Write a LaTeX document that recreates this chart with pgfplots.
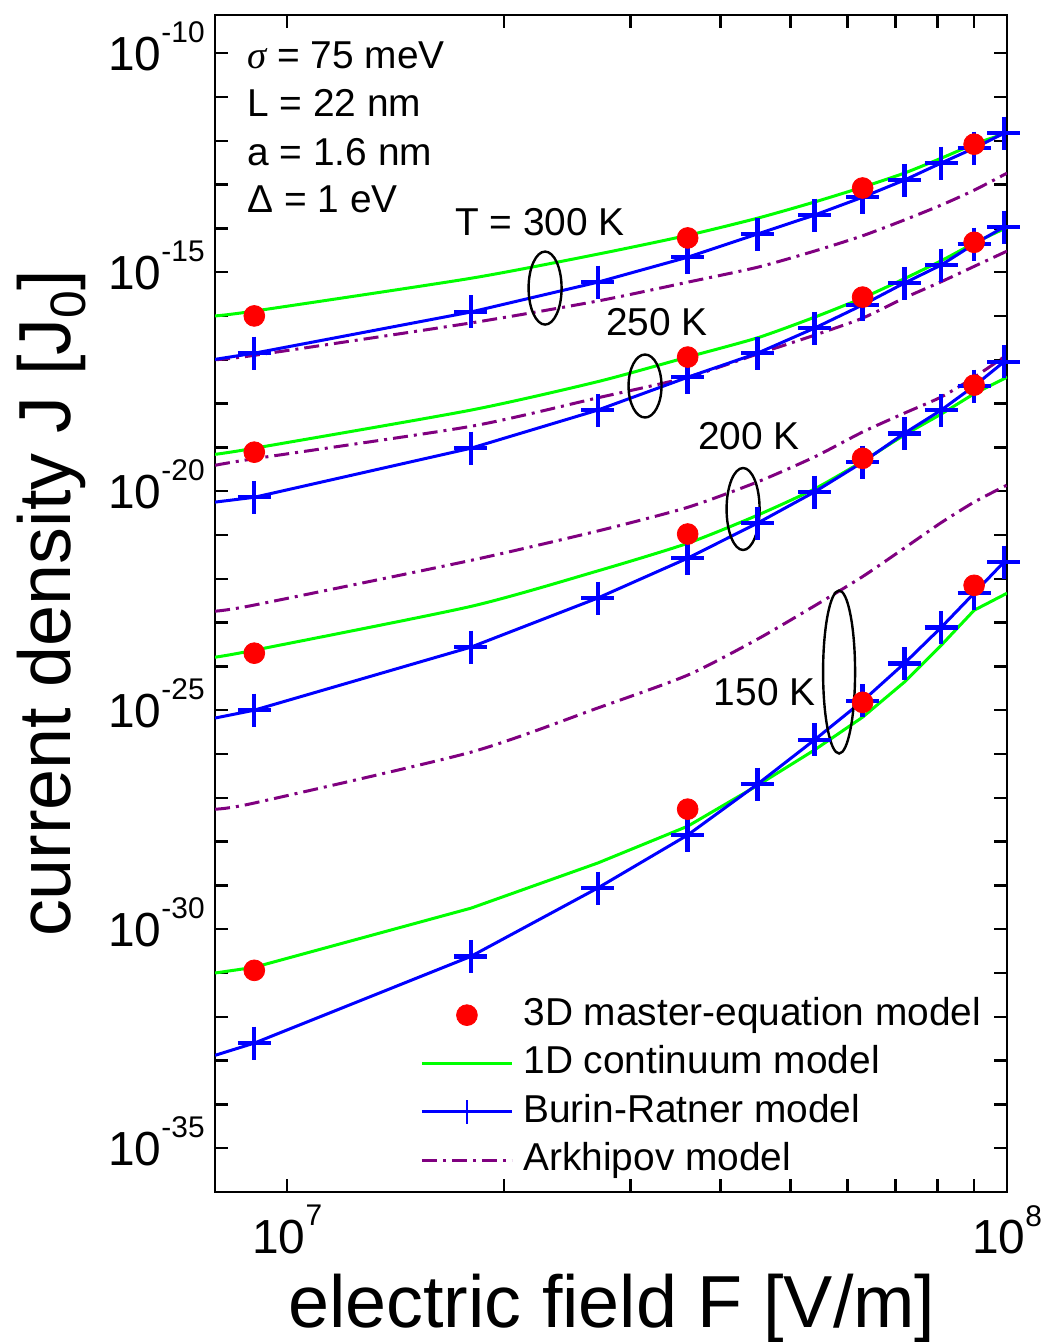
\documentclass[border=0pt]{standalone}
\usepackage{fontspec}
\setmainfont{Liberation Sans}
\newfontfamily\serifgreek{Liberation Serif}
\usepackage{pgfplots}
\pgfplotsset{compat=1.18}
\usepackage{pgfplotstable}

\definecolor{contgreen}{RGB}{0,255,0}
\definecolor{brblue}{RGB}{0,0,255}
\definecolor{mered}{RGB}{255,0,0}
\definecolor{arkpurple}{RGB}{128,0,128}

\newcommand{\tenpow}[1]{10\raisebox{0.57em}{\fontsize{15}{15}\selectfont #1}}
\newcommand{\annfont}{\fontsize{19.5}{23}\selectfont}

% 1D continuum model, one column per temperature
\pgfplotstableread{
F      t300     t250     t200     t150
7.94e6 1.00e-16 6.92e-20 1.62e-24 1.00e-31
9e6    1.29e-16 9.55e-20 2.34e-24 1.35e-31
1.8e7  7.24e-16 7.08e-19 2.34e-23 3.02e-30
2.7e7  2.57e-15 3.16e-18 1.51e-22 3.24e-29
3.6e7  6.92e-15 1.15e-17 6.46e-22 2.24e-28
4.5e7  1.70e-14 3.16e-17 2.82e-21 1.91e-27
5.4e7  3.98e-14 9.33e-17 1.12e-20 1.23e-26
6.3e7  8.71e-14 2.57e-16 4.79e-20 6.92e-26
7.2e7  1.82e-13 7.08e-16 1.91e-19 4.37e-25
8.1e7  3.98e-13 1.82e-15 5.75e-19 3.02e-24
9e7    8.32e-13 4.57e-15 1.66e-18 1.91e-23
1e8    1.51e-12 1.05e-14 3.98e-18 4.68e-23
}\contdata

% Arkhipov model
\pgfplotstableread{
F      t300     t250     t200     t150
7.94e6 1.00e-17 3.89e-20 1.82e-23 5.50e-28
9e6    1.26e-17 5.50e-20 2.51e-23 7.59e-28
1.8e7  6.92e-17 3.02e-19 2.63e-22 1.10e-26
2.7e7  2.19e-16 1.35e-18 1.23e-21 1.12e-25
3.6e7  5.89e-16 3.98e-18 4.27e-21 6.31e-25
4.5e7  1.29e-15 1.35e-17 1.62e-20 4.17e-24
5.4e7  3.02e-15 3.63e-17 6.03e-20 2.40e-23
6.3e7  6.76e-15 8.91e-17 2.24e-19 1.12e-22
7.2e7  1.55e-14 2.57e-16 6.03e-19 5.01e-22
8.1e7  3.39e-14 6.03e-16 1.41e-18 1.91e-21
9e7    7.41e-14 1.35e-15 3.98e-18 5.62e-21
1e8    1.82e-13 3.02e-15 1.29e-17 1.38e-20
}\arkdata

% Burin-Ratner model
\pgfplotstableread{
F      t300     t250     t200     t150
7.94e6 1.02e-17 5.62e-21 6.61e-26 1.32e-33
9e6    1.41e-17 7.24e-21 1.00e-25 2.51e-33
1.8e7  1.23e-16 9.55e-20 2.75e-24 2.40e-31
2.7e7  5.89e-16 7.08e-19 3.63e-23 8.71e-30
3.6e7  2.19e-15 3.98e-18 2.95e-22 1.41e-28
4.5e7  7.41e-15 1.41e-17 1.86e-21 2.04e-27
5.4e7  2.00e-14 5.25e-17 9.55e-21 2.09e-26
6.3e7  5.13e-14 1.78e-16 4.57e-20 1.62e-25
7.2e7  1.26e-13 5.62e-16 2.09e-19 1.17e-24
8.1e7  3.09e-13 1.45e-15 7.08e-19 7.76e-24
9e7    6.76e-13 4.37e-15 2.51e-18 4.68e-23
9.9e7  1.48e-12 1.07e-14 8.91e-18 2.40e-22
}\brdata

% 3D master-equation model
\pgfplotstableread{
F      t300     t250     t200     t150
9e6    1.00e-16 7.76e-20 2.00e-24 1.15e-31
3.6e7  6.03e-15 1.15e-17 1.05e-21 5.50e-28
6.3e7  8.32e-14 2.69e-16 5.62e-20 1.51e-25
9e7    8.32e-13 4.79e-15 2.63e-18 7.08e-23
}\medata

\begin{document}
\begin{tikzpicture}
\begin{axis}[
  scale only axis, width=396bp, height=588.5bp,
  xmode=log, ymode=log,
  xmin=7.94e6, xmax=1e8, ymin=1e-36, ymax=7.4e-10,
  axis line style={line width=1.3bp},
  every tick/.style={black, line width=1.2bp},
  major tick length=6.5bp, minor tick length=6.5bp,
  tick align=inside,
  xtick={1e7,1e8}, xticklabels={\tenpow{7},\tenpow{8}},
  minor xtick={2e7,3e7,4e7,5e7,6e7,7e7,8e7,9e7},
  ytick={1e-35,1e-30,1e-25,1e-20,1e-15,1e-10},
  yticklabels={\tenpow{-35},\tenpow{-30},\tenpow{-25},\tenpow{-20},\tenpow{-15},\tenpow{-10}},
  minor ytick={1e-34,1e-33,1e-32,1e-31,1e-29,1e-28,1e-27,1e-26,1e-24,1e-23,1e-22,1e-21,1e-19,1e-18,1e-17,1e-16,1e-14,1e-13,1e-12,1e-11},
  ticklabel style={font=\fontsize{24}{24}\selectfont},
  yticklabel style={anchor=base east, inner sep=0pt, xshift=-5bp, yshift=-8.5bp},
  xticklabel style={anchor=north, inner sep=0pt, yshift=-6.5bp},
  xlabel={electric field F [V/m]},
  ylabel={current density J [J\raisebox{-0.2em}{\fontsize{25}{25}\selectfont 0}]},
  every axis x label/.style={at={(axis description cs:0.501,-0.1147)}, anchor=base, font=\fontsize{37}{42}\selectfont},
  every axis y label/.style={at={(axis description cs:-0.182,0.5)}, rotate=90, anchor=base, font=\fontsize{37}{42}\selectfont},
  legend cell align=left,
  legend image code/.code={\draw[mark repeat=2,mark phase=2] plot coordinates {(0bp,0bp) (22.5bp,0bp) (45bp,0bp)};},
  legend style={at={(axis description cs:0.2588,0.1665)}, anchor=north west,
    draw=none, fill=none, inner sep=0pt, font=\annfont, row sep=5.5bp,
    nodes={inner xsep=0pt, inner ysep=0pt, text height=14.5bp, text depth=4.2bp},
    /tikz/every odd column/.append style={column sep=5bp}},
]

% legend entries
\addlegendimage{only marks, mark=*, mark size=5.2bp, color=mered}
\addlegendentry{3D master-equation model}
\addlegendimage{contgreen, line width=1.5bp}
\addlegendentry{1D continuum model}
\addlegendimage{brblue, line width=1.5bp, mark=+, mark size=5.8bp, mark options={line width=1.3bp}}
\addlegendentry{Burin-Ratner model}
\addlegendimage{arkpurple, line width=1.5bp, dash pattern=on 7.5bp off 3bp on 1.5bp off 3bp}
\addlegendentry{Arkhipov model}

% 1D continuum model (the 150 K curve has a corner near 9e7, so it is not smoothed)
\foreach \T in {t300,t250,t200}{
  \addplot[forget plot, contgreen, line width=1.5bp, smooth, tension=0.4] table[x=F, y=\T] {\contdata};
}
\addplot[forget plot, contgreen, line width=1.5bp] table[x=F, y=t150] {\contdata};
% Arkhipov model
\foreach \T in {t300,t250,t200,t150}{
  \addplot[forget plot, arkpurple, line width=1.5bp, smooth, tension=0.4,
    dash pattern=on 7.5bp off 3bp on 1.5bp off 3bp] table[x=F, y=\T] {\arkdata};
}
% Burin-Ratner model (first row is the left edge, without a marker)
\foreach \T in {t300,t250,t200,t150}{
  \addplot[forget plot, brblue, line width=1.5bp, mark=+, mark size=8.25bp,
    mark options={line width=2.2bp}, mark repeat=1, mark phase=2] table[x=F, y=\T] {\brdata};
}
% 3D master-equation model
\foreach \T in {t300,t250,t200,t150}{
  \addplot[forget plot, only marks, mark=*, mark size=5.2bp, color=mered] table[x=F, y=\T] {\medata};
}

% parameters
\node[anchor=west, inner sep=0pt, font=\annfont] at (rel axis cs:0.0404,0.966) {{\serifgreek\itshape σ} = 75 meV};
\node[anchor=west, inner sep=0pt, font=\annfont] at (rel axis cs:0.0404,0.925) {L = 22 nm};
\node[anchor=west, inner sep=0pt, font=\annfont] at (rel axis cs:0.0404,0.8836) {a = 1.6 nm};
\node[anchor=west, inner sep=0pt, font=\annfont] at (rel axis cs:0.0404,0.843) {Δ = 1 eV};

% temperature labels and the ellipses grouping each set of curves
\node[font=\annfont] at (rel axis cs:0.410,0.824) {T = 300 K};
\node[font=\annfont] at (rel axis cs:0.558,0.739) {250 K};
\node[font=\annfont] at (rel axis cs:0.674,0.642) {200 K};
\node[font=\annfont] at (rel axis cs:0.694,0.425) {150 K};
\draw[line width=1.2bp] (rel axis cs:0.4167,0.768) ellipse (8.25bp and 18.25bp);
\draw[line width=1.2bp] (rel axis cs:0.5429,0.6848) ellipse (8.25bp and 15.75bp);
\draw[line width=1.2bp] (rel axis cs:0.6667,0.5803) ellipse (8.25bp and 20.5bp);
\draw[line width=1.2bp] (rel axis cs:0.7879,0.4418) ellipse (8bp and 40.75bp);
\end{axis}
\pgfresetboundingbox
\path[use as bounding box] ([xshift=-107.5bp,yshift=-75bp]current axis.south west) rectangle ([xshift=21bp,yshift=7.5bp]current axis.north east);
\end{tikzpicture}
\end{document}
